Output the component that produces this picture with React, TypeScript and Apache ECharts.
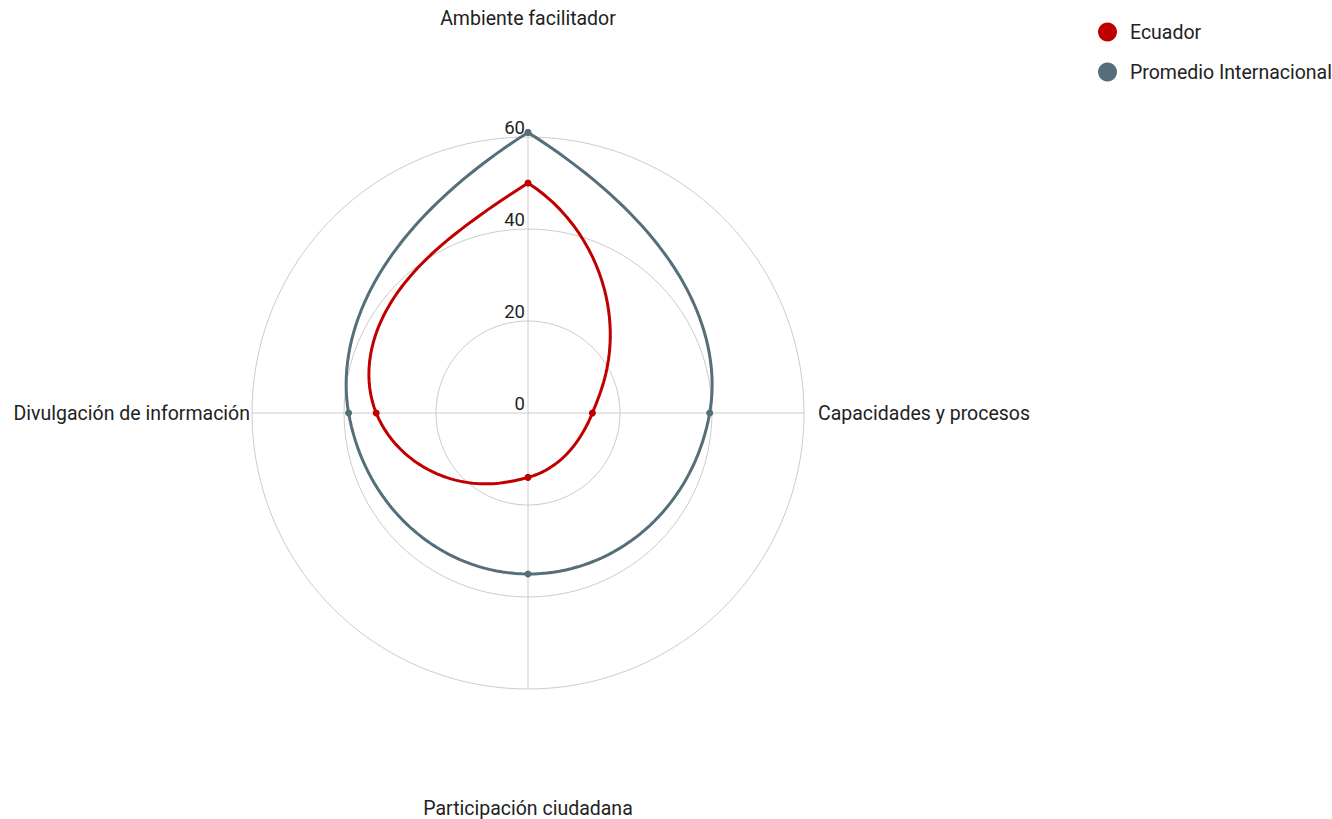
import React, { useEffect, useRef } from "react";
import * as echarts from "echarts";

const categories = [
  "Ambiente facilitador",
  "Capacidades y procesos",
  "Participación ciudadana",
  "Divulgación de información",
];
const ecuador = [50, 14, 14, 33];
const promedio = [61, 39.5, 35, 39];
const seriesNames = ["Ecuador", "Promedio Internacional"];
const radiusTicks = [0, 20, 40, 60];

const RED = "#C00000";
const BLUE = "#546E7A";
const CX = 528;
const CY = 413;
const R = 276;
const FONT = "Roboto";
const END_SLOPE = 1.0; // log-radius slope per step at the open ends (cusp at the first point)

// data points as [radius, angle]; the first point is repeated to close the loop
function toPolar(values: number[]) {
  const pts = values.map((v, i) => [v, (i * 360) / values.length]);
  pts.push([values[0], 360]);
  return pts;
}

// Smooth curve through the points, interpolated in (angle, log radius) space
// and converted to pixels by the polar axes.
function curvePoints(data: number[][], api: any) {
  const n = data.length;
  const L = data.map((d) => Math.log(Math.max(d[0], 0.5)));
  const a = data.map((d) => d[1]);
  const m = L.map((_, i) => {
    if (i === 0) return Math.sign(L[1] - L[0]) * END_SLOPE;
    if (i === n - 1) return Math.sign(L[n - 1] - L[n - 2]) * END_SLOPE;
    return (L[i + 1] - L[i - 1]) / 2;
  });
  const out: number[][] = [];
  const N = 40;
  for (let i = 0; i < n - 1; i++) {
    for (let k = i === 0 ? 0 : 1; k <= N; k++) {
      const t = k / N;
      const t2 = t * t;
      const t3 = t2 * t;
      const h00 = 2 * t3 - 3 * t2 + 1;
      const h10 = t3 - 2 * t2 + t;
      const h01 = -2 * t3 + 3 * t2;
      const h11 = t3 - t2;
      const lv = h00 * L[i] + h10 * m[i] + h01 * L[i + 1] + h11 * m[i + 1];
      const av = a[i] + (a[i + 1] - a[i]) * t;
      out.push(api.coord([Math.exp(lv), av]));
    }
  }
  return out;
}

function makeSeries(name: string, values: number[], color: string, z: number) {
  const data = toPolar(values);
  return {
    name,
    type: "custom",
    coordinateSystem: "polar",
    data,
    z,
    itemStyle: { color },
    silent: true,
    renderItem: (params: any, api: any) => {
      const idx = params.dataIndex;
      const children: any[] = [];
      if (idx === 0) {
        children.push({
          type: "polyline",
          shape: { points: curvePoints(data, api) },
          style: { fill: "none", stroke: color, lineWidth: 3, lineJoin: "round" },
        });
      }
      if (idx < data.length - 1) {
        const p = api.coord([api.value(0), api.value(1)]);
        children.push({
          type: "circle",
          shape: { cx: p[0], cy: p[1], r: 3.5 },
          style: { fill: color },
          z2: 10,
        });
      }
      return { type: "group", children };
    },
  };
}

export default function App() {
  const ref = useRef<HTMLDivElement>(null);
  useEffect(() => {
    if (!ref.current) return;
    const chart = echarts.init(ref.current, null, { renderer: "svg" });
    const nameStyle = { fontFamily: FONT, fontSize: 19.5, fill: "#222" };
    const labelPos = [
      { x: CX, y: 18, align: "center" },
      { x: CX + R + 14, y: CY, align: "left" },
      { x: CX, y: 808, align: "center" },
      { x: CX - R - 2, y: CY, align: "right" },
    ];
    chart.setOption({
      animation: false,
      textStyle: { fontFamily: FONT },
      legend: {
        data: seriesNames.map((n, i) => ({ name: n, itemStyle: { color: i === 0 ? RED : BLUE } })),
        orient: "vertical",
        left: 1098,
        top: 22,
        padding: 0,
        icon: "circle",
        itemWidth: 19,
        itemHeight: 19,
        itemGap: 20,
        textStyle: { fontSize: 19.5, color: "#222", padding: [0, 0, 0, 8], fontFamily: FONT },
      },
      polar: { center: [CX, CY], radius: R },
      angleAxis: {
        type: "value",
        min: 0,
        max: 360,
        interval: 90,
        startAngle: 90,
        clockwise: true,
        axisLine: { show: false },
        axisTick: { show: false },
        axisLabel: { show: false },
        splitLine: { show: true, lineStyle: { color: "#cccccc", width: 1 } },
      },
      radiusAxis: {
        type: "value",
        min: radiusTicks[0],
        max: radiusTicks[radiusTicks.length - 1],
        interval: 20,
        axisLine: { show: false },
        axisTick: { show: false },
        axisLabel: {
          show: true,
          fontSize: 18.5,
          color: "#222",
          fontFamily: FONT,
          align: "right",
          verticalAlign: "bottom",
          margin: 3,
        },
        splitLine: { show: true, lineStyle: { color: "#cccccc", width: 1 } },
      },
      graphic: categories.map((c, i) => ({
        type: "text",
        x: labelPos[i].x,
        y: labelPos[i].y,
        silent: true,
        style: {
          text: c,
          ...nameStyle,
          align: labelPos[i].align,
          verticalAlign: "middle",
        },
      })),
      series: [makeSeries(seriesNames[0], ecuador, RED, 3), makeSeries(seriesNames[1], promedio, BLUE, 2)],
    });
    return () => chart.dispose();
  }, []);
  return (
    <div
      ref={ref}
      style={{ position: "fixed", left: 0, top: 0, width: 1332, height: 819, background: "#fff" }}
    />
  );
}
